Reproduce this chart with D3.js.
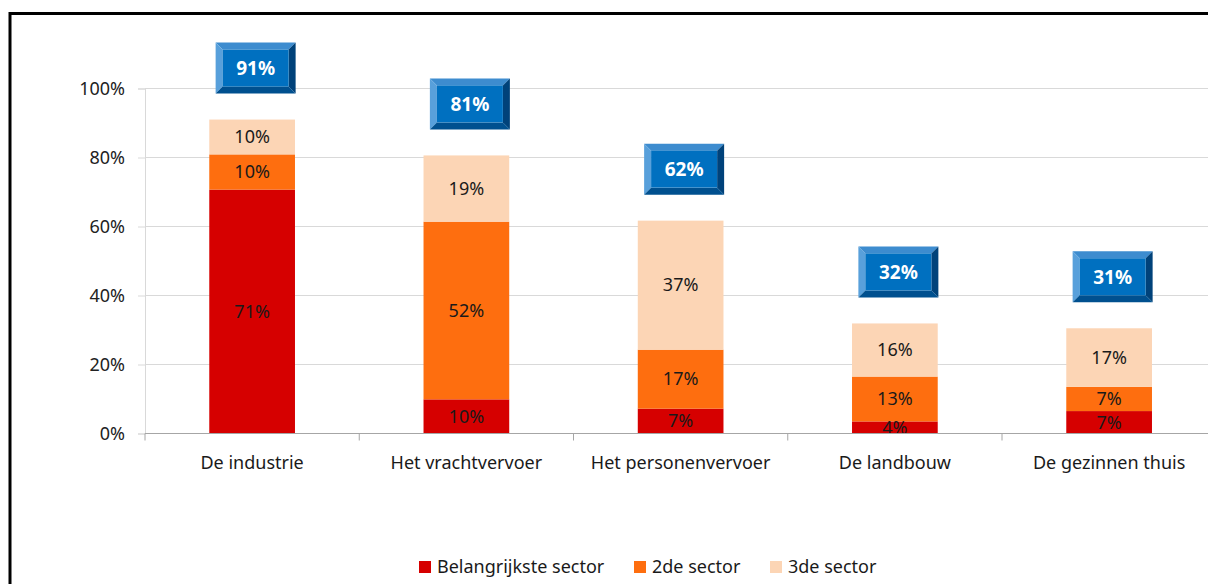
<!DOCTYPE html>
<html>
<head>
<meta charset="utf-8">
<script src="https://cdn.jsdelivr.net/npm/d3@7"></script>
<style>
  body { margin: 0; background: #fff; }
  svg { display: block; font-family: "Noto Sans", sans-serif; }
</style>
</head>
<body>
<div id="chart"></div>
<script>
// Data
const categories = ["De industrie", "Het vrachtvervoer", "Het personenvervoer", "De landbouw", "De gezinnen thuis"];
const seriesNames = ["Belangrijkste sector", "2de sector", "3de sector"];
const firstSector = [70.7, 9.9, 7.2, 3.5, 6.5];
const secondSector = [10.2, 51.5, 17.1, 13.0, 7.0];
const thirdSector = [10.1, 19.2, 37.4, 15.4, 17.0];
const firstLabels = [71, 10, 7, 4, 7];
const secondLabels = [10, 52, 17, 13, 7];
const thirdLabels = [10, 19, 37, 16, 17];
const totals = [91, 81, 62, 32, 31];
const yTicks = [0, 20, 40, 60, 80, 100];

const colors = ["#d60000", "#fe6e0f", "#fcd5b5"];

const width = 1208, height = 584;
const fontSize = "18px";

const svg = d3.select("#chart")
    .append("svg")
    .attr("width", width)
    .attr("height", height);

// Frame (top and left edges visible)
svg.append("path")
    .attr("d", `M10,${height} V13.5 H${width}`)
    .attr("fill", "none")
    .attr("stroke", "#000")
    .attr("stroke-width", 3);

// Scales
const x = d3.scaleBand()
    .domain(categories)
    .range([145, 145 + 5 * 214.25])
    .paddingInner(0.6)
    .paddingOuter(0.3);

const y = d3.scaleLinear()
    .domain([0, 100])
    .range([433.5, 88.5]);

// Gridlines + y labels
const yAxis = svg.append("g")
    .attr("transform", "translate(145,0)")
    .call(d3.axisLeft(y).tickValues(yTicks).tickSize(7).tickFormat(d => d + "%"));
yAxis.select(".domain").attr("stroke", "#d9d9d9");
yAxis.selectAll(".tick line").attr("stroke", "#d9d9d9");
yAxis.selectAll(".tick text")
    .attr("x", -20)
    .attr("fill", "#222")
    .style("font-size", fontSize)
    .style("font-family", "Noto Sans, sans-serif");

svg.append("g")
    .selectAll("line")
    .data(yTicks.filter(d => d > 0))
    .join("line")
    .attr("x1", 145)
    .attr("x2", width)
    .attr("y1", d => y(d))
    .attr("y2", d => y(d))
    .attr("stroke", "#d9d9d9");

// Stacked bars
const rows = categories.map((c, i) => ({
    category: c,
    values: [firstSector[i], secondSector[i], thirdSector[i]],
    labels: [firstLabels[i], secondLabels[i], thirdLabels[i]],
    total: totals[i]
}));

const stacked = [];
rows.forEach(r => {
    let base = 0;
    r.values.forEach((v, k) => {
        stacked.push({ category: r.category, k: k, y0: base, y1: base + v, label: r.labels[k] });
        base += v;
    });
    r.top = base;
});

svg.append("g")
    .selectAll("rect")
    .data(stacked)
    .join("rect")
    .attr("x", d => x(d.category))
    .attr("width", x.bandwidth())
    .attr("y", d => y(d.y1))
    .attr("height", d => y(d.y0) - y(d.y1))
    .attr("fill", d => colors[d.k]);

svg.append("g")
    .selectAll("text")
    .data(stacked)
    .join("text")
    .attr("x", d => x(d.category) + x.bandwidth() / 2)
    .attr("y", d => (y(d.y0) + y(d.y1)) / 2)
    .attr("dy", "0.35em")
    .attr("text-anchor", "middle")
    .attr("fill", "#1a1a1a")
    .style("font-size", fontSize)
    .text(d => d.label + "%");

// X axis
const xAxisY = 433.5;
svg.append("line")
    .attr("x1", 145).attr("x2", width)
    .attr("y1", xAxisY).attr("y2", xAxisY)
    .attr("stroke", "#a6a6a6");

svg.append("g")
    .selectAll("line")
    .data(d3.range(categories.length + 1))
    .join("line")
    .attr("x1", i => 145 + i * x.step())
    .attr("x2", i => 145 + i * x.step())
    .attr("y1", xAxisY)
    .attr("y2", xAxisY + 7)
    .attr("stroke", "#a6a6a6");

svg.append("g")
    .selectAll("text")
    .data(categories)
    .join("text")
    .attr("x", d => x(d) + x.bandwidth() / 2)
    .attr("y", 463)
    .attr("dy", "0.35em")
    .attr("text-anchor", "middle")
    .attr("fill", "#1a1a1a")
    .style("font-size", fontSize)
    .text(d => d);

// Total badges (beveled boxes)
const bw = 80, bh = 51, bev = 7;
const badges = svg.append("g")
    .selectAll("g")
    .data(rows)
    .join("g")
    .attr("transform", d => `translate(${x(d.category) + x.bandwidth() / 2 + 3.5 - bw / 2},${y(d.top) - 77})`);

badges.append("polygon")
    .attr("points", `0,0 ${bw},0 ${bw - bev},${bev} ${bev},${bev}`)
    .attr("fill", "#3d8ccf");
badges.append("polygon")
    .attr("points", `0,0 ${bev},${bev} ${bev},${bh - bev} 0,${bh}`)
    .attr("fill", "#58a0db");
badges.append("polygon")
    .attr("points", `${bw},0 ${bw},${bh} ${bw - bev},${bh - bev} ${bw - bev},${bev}`)
    .attr("fill", "#00427a");
badges.append("polygon")
    .attr("points", `0,${bh} ${bev},${bh - bev} ${bw - bev},${bh - bev} ${bw},${bh}`)
    .attr("fill", "#00508f");
badges.append("rect")
    .attr("x", bev).attr("y", bev)
    .attr("width", bw - 2 * bev).attr("height", bh - 2 * bev)
    .attr("fill", "#0070c0");
badges.append("text")
    .attr("x", bw / 2)
    .attr("y", bh / 2)
    .attr("dy", "0.36em")
    .attr("text-anchor", "middle")
    .attr("fill", "#fff")
    .style("font-size", "19px")
    .style("font-weight", "bold")
    .text(d => d.total + "%");

// Legend
const legendX = [419, 634, 770];
const legend = svg.append("g")
    .selectAll("g")
    .data(seriesNames)
    .join("g")
    .attr("transform", (d, i) => `translate(${legendX[i]},561)`);

legend.append("rect")
    .attr("width", 12)
    .attr("height", 12)
    .attr("fill", (d, i) => colors[i]);

legend.append("text")
    .attr("x", 18)
    .attr("y", 6)
    .attr("dy", "0.35em")
    .attr("fill", "#1a1a1a")
    .style("font-size", fontSize)
    .text(d => d);
</script>
</body>
</html>
